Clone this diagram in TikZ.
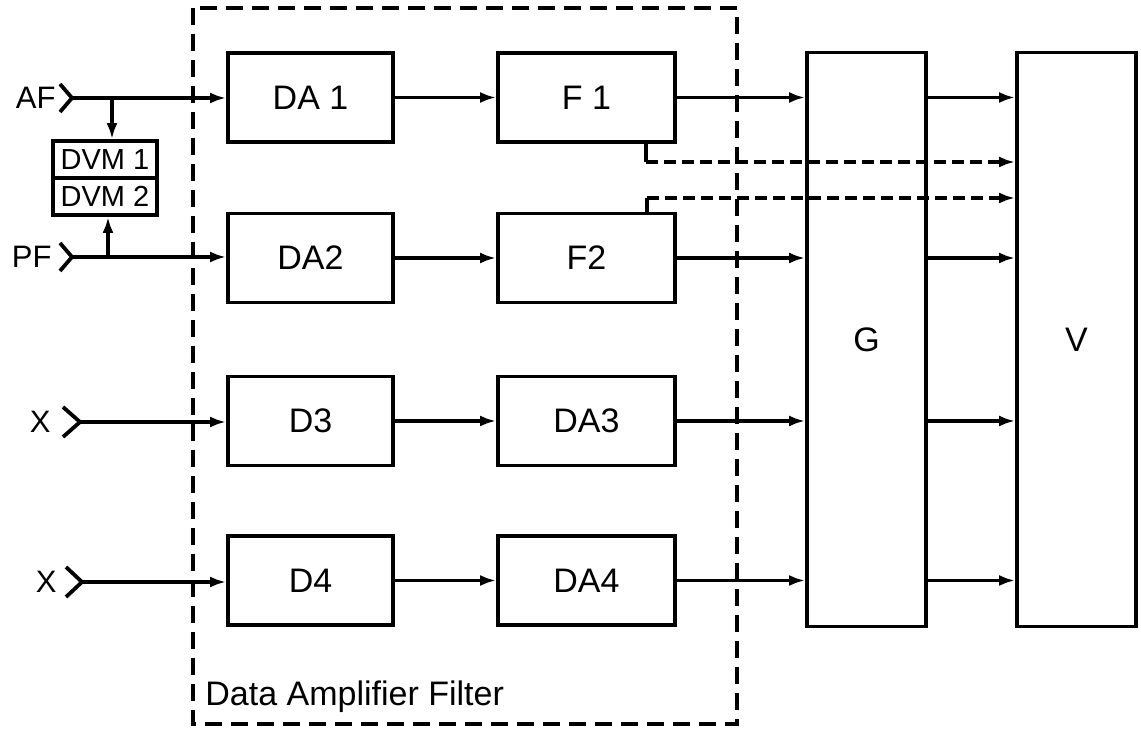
\documentclass[tikz,border=0pt]{standalone}
\usepackage{fontspec}
\setmainfont{Liberation Sans}
\usetikzlibrary{arrows.meta}

\begin{document}
\begin{tikzpicture}[x=0.5pt,y=-0.5pt,>={Latex[length=8pt,width=5.5pt]}]
    \tikzstyle{every node}=[font=\fontsize{17}{20}\selectfont]
    \tikzstyle{blk}=[draw,line width=1.9pt,inner sep=0pt]
    \tikzstyle{blka}=[blk,minimum width=82.5pt,minimum height=44.5pt]
    \tikzstyle{blkb}=[blk,minimum width=88.5pt,minimum height=44.5pt]
    \tikzstyle{tall}=[blk,minimum width=59.5pt,minimum height=287pt]
    \tikzstyle{meter}=[blk,minimum width=52pt,minimum height=18.5pt,
                       font=\fontsize{14.5}{16}\selectfont]
    \tikzstyle{inlabel}=[inner sep=0pt,anchor=east,
                         font=\fontsize{15.5}{18}\selectfont]
    \tikzstyle{wire}=[line width=1.9pt]
    \tikzstyle{dwire}=[line width=1.9pt,dash pattern=on 6pt off 3pt]

    \useasboundingbox[fill=white] (0,0) rectangle (1141,731);

    % the data amplifier filter unit
    \draw[line width=1.6pt,dash pattern=on 8.5pt off 4.5pt]
        (193,8) rectangle (737,724);
    \node (unit) [anchor=base west,inner sep=0pt] at (205,705)
        {Data Amplifier Filter};

    % the four channels
    \node (da1) [blka] at (310.5,97.5) {DA 1};
    \node (f1)  [blkb] at (586.5,97.5) {F 1};
    \node (da2) [blka] at (310.5,258) {DA2};
    \node (f2)  [blkb] at (586.5,258) {F2};
    \node (d3)  [blka] at (310.5,421) {D3};
    \node (da3) [blkb] at (586.5,421) {DA3};
    \node (d4)  [blka] at (310.5,580.5) {D4};
    \node (da4) [blkb] at (586.5,580.5) {DA4};

    \node (g) [tall] at (866.5,339.5) {G};
    \node (v) [tall] at (1076.5,339.5) {V};

    % voltmeters
    \node (dvm1) [meter] at (105,159.5) {DVM 1};
    \node (dvm2) [meter] at (105,196.5) {DVM 2};

    % inputs
    \node (af) [inlabel] at (56,98) {AF};
    \node (pf) [inlabel] at (52,257) {PF};
    \node (x3) [inlabel] at (51,422) {X};
    \node (x4) [inlabel] at (57,582) {X};
    \coordinate (afin) at (72,98);
    \coordinate (pfin) at (72,257);
    \coordinate (x3in) at (80,422);
    \coordinate (x4in) at (82,582);
    \draw[wire] (60,84) -- (afin) -- (60,112);
    \draw[wire] (60,243) -- (pfin) -- (60,271);
    \draw[wire] (63,407) -- (x3in) -- (63,437);
    \draw[wire] (66,567) -- (x4in) -- (66,597);

    \draw[wire,->] (afin) -- (afin -| da1.west);
    \draw[wire,->] (pfin) -- (pfin -| da2.west);
    \draw[wire,->] (x3in) -- (x3in -| d3.west);
    \draw[wire,->] (x4in) -- (x4in -| d4.west);

    \coordinate (afj) at (112,98);
    \coordinate (pfj) at (108,257);
    \draw[wire,->] (afj) -- (afj |- dvm1.north);
    \draw[wire,->] (pfj) -- (pfj |- dvm2.south);

    % stage to stage
    \draw[wire,->] (da1) -- (f1);
    \draw[wire,->] (da2) -- (f2);
    \draw[wire,->] (d3) -- (da3);
    \draw[wire,->] (d4) -- (da4);

    \foreach \s in {f1,f2,da3,da4} {
        \draw[wire,->] (\s.east) -- (\s.east -| g.west);
        \draw[wire,->] (\s.east -| g.east) -- (\s.east -| v.west);
    }

    % filter side outputs
    \coordinate (t1) at (646,162);
    \coordinate (t2) at (647,198);
    \draw[wire] (f1.south -| t1) -- (t1);
    \draw[wire] (f2.north -| t2) -- (t2);
    \draw[dwire,->] (t1) -- (t1 -| v.west);
    \draw[dwire,->] (t2) -- (t2 -| v.west);
\end{tikzpicture}
\end{document}
